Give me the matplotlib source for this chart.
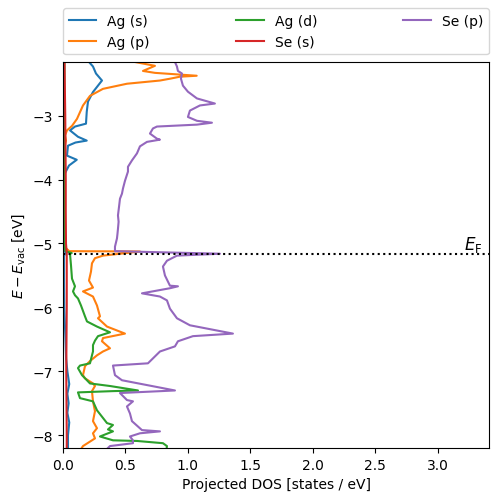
import numpy as np
import matplotlib
matplotlib.use("Agg")
import matplotlib.pyplot as plt

# energies (eV, relative to vacuum) and projected DOS
e_fermi = -5.17

ag_s_e = [-2.16, -2.23, -2.34, -2.45, -2.53, -2.63, -2.78, -2.94, -3.125, -3.17, -3.23, -3.33,
          -3.39, -3.42, -3.47, -3.625, -3.69, -3.78, -3.9, -4.3, -4.8, -5.1, -5.14, -5.2,
          -5.6, -6.0, -6.5, -6.8, -7.0, -7.2, -7.35, -7.5, -7.65, -7.8, -8.0, -8.2]
ag_s_d = [0.208, 0.24, 0.264, 0.312, 0.28, 0.24, 0.20, 0.19, 0.184, 0.096, 0.056, 0.12,
          0.19, 0.10, 0.04, 0.032, 0.11, 0.048, 0.016, 0.01, 0.008, 0.008, 0.02, 0.008,
          0.008, 0.01, 0.02, 0.025, 0.035, 0.05, 0.035, 0.045, 0.035, 0.05, 0.04, 0.04]

ag_p_e = [-2.16, -2.22, -2.30, -2.33, -2.375, -2.39, -2.42, -2.45, -2.50, -2.58, -2.69,
          -2.84, -3.05, -3.16, -3.23, -3.31, -3.39, -3.5, -4.0, -4.5, -5.05, -5.12, -5.125,
          -5.19, -5.23, -5.31, -5.44, -5.58, -5.69, -5.75, -5.83, -5.97, -6.14, -6.17, -6.30,
          -6.41, -6.48, -6.53, -6.64, -6.69, -6.75, -6.84, -6.92, -7.06, -7.11, -7.19, -7.23,
          -7.31, -7.47, -7.625, -7.78, -7.89, -7.97, -8.05, -8.17, -8.2]
ag_p_d = [0.576, 0.736, 0.64, 0.736, 1.07, 0.936, 0.86, 0.776, 0.512, 0.32, 0.216,
          0.16, 0.112, 0.072, 0.032, 0.016, 0.024, 0.01, 0.008, 0.008, 0.01, 0.05, 0.616,
          0.32, 0.256, 0.232, 0.224, 0.208, 0.24, 0.16, 0.24, 0.272, 0.296, 0.28, 0.352,
          0.496, 0.32, 0.312, 0.376, 0.32, 0.272, 0.216, 0.176, 0.16, 0.176, 0.24, 0.256,
          0.232, 0.24, 0.256, 0.24, 0.272, 0.24, 0.256, 0.16, 0.15]

ag_d_e = [-2.16, -3.0, -4.0, -5.0, -5.12, -5.15, -5.16, -5.34, -5.55, -5.67, -5.75, -5.81,
          -5.86, -5.97, -6.14, -6.22, -6.30, -6.39, -6.45, -6.52, -6.59, -6.69, -6.75,
          -6.875, -6.91, -6.95, -7.06, -7.19, -7.23, -7.30, -7.31, -7.33, -7.42, -7.47,
          -7.61, -7.73, -7.81, -7.84, -7.91, -7.94, -8.02, -8.08, -8.09, -8.125, -8.17, -8.2]
ag_d_d = [0.012, 0.01, 0.008, 0.01, 0.02, 0.07, 0.056, 0.064, 0.072, 0.096, 0.08, 0.096,
          0.12, 0.144, 0.176, 0.192, 0.272, 0.376, 0.28, 0.256, 0.24, 0.24, 0.232,
          0.216, 0.136, 0.12, 0.152, 0.216, 0.376, 0.60, 0.40, 0.12, 0.136, 0.24,
          0.272, 0.32, 0.352, 0.40, 0.36, 0.40, 0.296, 0.40, 0.592, 0.80, 0.832, 0.83]

se_s_e = [-2.16, -3.0, -3.5, -4.0, -4.5, -5.0, -5.15, -5.5, -6.0, -6.5, -7.0, -7.5, -8.0, -8.2]
se_s_d = [0.012, 0.018, 0.02, 0.022, 0.022, 0.024, 0.03, 0.03, 0.03, 0.028, 0.026, 0.028, 0.03, 0.03]

se_p_e = [-2.16, -2.23, -2.30, -2.34, -2.42, -2.53, -2.625, -2.73, -2.81, -2.84, -2.92,
          -3.02, -3.08, -3.11, -3.14, -3.17, -3.20, -3.28, -3.36, -3.375, -3.41, -3.48,
          -3.59, -3.70, -3.80, -3.875, -4.02, -4.14, -4.22, -4.30, -4.40, -4.56, -4.66,
          -4.77, -4.85, -4.92, -5.05, -5.12, -5.16, -5.19, -5.27, -5.36, -5.50, -5.66,
          -5.67, -5.70, -5.78, -5.83, -5.89, -6.02, -6.17, -6.28, -6.41, -6.45, -6.53,
          -6.61, -6.69, -6.875, -6.91, -7.06, -7.14, -7.30, -7.34, -7.45, -7.47, -7.55,
          -7.66, -7.78, -7.92, -7.94, -7.97, -8.02, -8.08, -8.125, -8.17, -8.2]
se_p_d = [0.896, 0.912, 0.92, 0.952, 0.944, 0.96, 1.0, 1.072, 1.216, 1.096, 1.016,
          1.0, 1.072, 1.192, 1.072, 0.752, 0.72, 0.696, 0.752, 0.776, 0.672, 0.616,
          0.592, 0.552, 0.52, 0.52, 0.496, 0.48, 0.472, 0.456, 0.45, 0.44, 0.445,
          0.44, 0.436, 0.432, 0.416, 0.416, 1.256, 0.912, 0.832, 0.80, 0.816, 0.856,
          0.92, 0.856, 0.632, 0.776, 0.832, 0.856, 0.912, 1.016, 1.36, 1.04, 0.92,
          0.896, 0.776, 0.68, 0.40, 0.416, 0.472, 0.896, 0.456, 0.512, 0.56, 0.512,
          0.536, 0.552, 0.632, 0.776, 0.616, 0.536, 0.56, 0.56, 0.376, 0.36]

fig = plt.figure(figsize=(4.98, 5.02), dpi=100)
ax = fig.add_axes([0.1265, 0.1056, 0.8555, 0.7689])

ax.plot(ag_s_d, ag_s_e, label='Ag (s)')
ax.plot(ag_p_d, ag_p_e, label='Ag (p)')
ax.plot(ag_d_d, ag_d_e, label='Ag (d)')
ax.plot(se_s_d, se_s_e, label='Se (s)')
ax.plot(se_p_d, se_p_e, label='Se (p)')

ax.axhline(e_fermi, color='k', linestyle=':', linewidth=1.5)
ax.text(3.36, e_fermi, r'$E_{\mathrm{F}}$', ha='right', va='bottom', fontsize=12)

ax.set_xlim(0, 3.41)
ax.set_ylim(-8.2, -2.16)
ax.set_yticks([-8, -7, -6, -5, -4, -3])
ax.set_xlabel('Projected DOS [states / eV]')
ax.set_ylabel(r'$E - E_{\mathrm{vac}}$ [eV]')
ax.legend(loc='lower left', bbox_to_anchor=(0, 1.02, 1, 0.2), mode='expand', ncol=3,
          borderaxespad=0)

fig.savefig('out.png', dpi=100)
